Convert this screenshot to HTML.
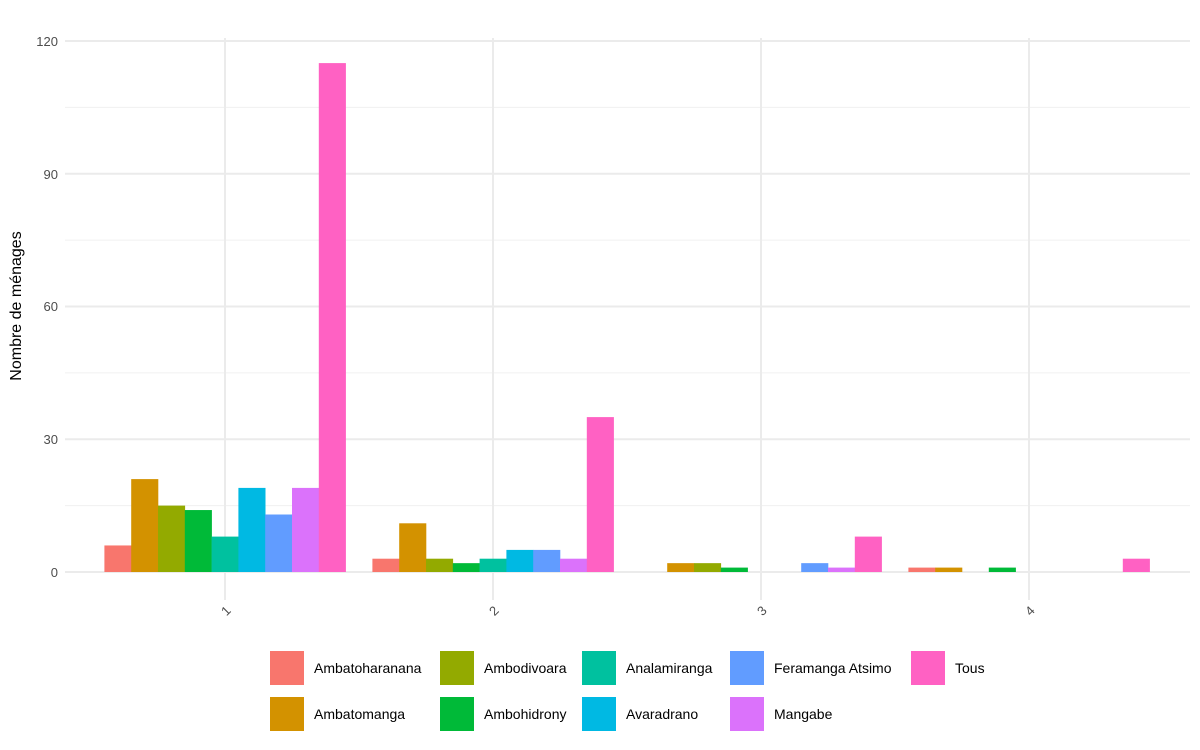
<!DOCTYPE html>
<html><head><meta charset="utf-8"><style>
body{margin:0;background:#fff;}
svg{display:block;font-family:"Liberation Sans",sans-serif;}
</style></head><body>
<svg width="1200" height="750" xmlns="http://www.w3.org/2000/svg">
<rect width="1200" height="750" fill="#fff"/>
<g stroke="#f0f0f0" stroke-width="1">
<line x1="65" x2="1190" y1="505.6" y2="505.6"/>
<line x1="65" x2="1190" y1="372.9" y2="372.9"/>
<line x1="65" x2="1190" y1="240.1" y2="240.1"/>
<line x1="65" x2="1190" y1="107.4" y2="107.4"/>
</g>
<g stroke="#ebebeb" stroke-width="2">
<line x1="65" x2="1190" y1="572" y2="572"/>
<line x1="65" x2="1190" y1="439.3" y2="439.3"/>
<line x1="65" x2="1190" y1="306.5" y2="306.5"/>
<line x1="65" x2="1190" y1="173.8" y2="173.8"/>
<line x1="65" x2="1190" y1="41" y2="41"/>
<line x1="225" x2="225" y1="38" y2="600"/>
<line x1="493" x2="493" y1="38" y2="600"/>
<line x1="761" x2="761" y1="38" y2="600"/>
<line x1="1029" x2="1029" y1="38" y2="600"/>
</g>
<g font-size="13" fill="#4d4d4d" text-anchor="end">
<text x="58" y="577">0</text>
<text x="58" y="444">30</text>
<text x="58" y="311">60</text>
<text x="58" y="179">90</text>
<text x="58" y="46">120</text>
</g>
<g font-size="13" fill="#4d4d4d" text-anchor="middle">
<text transform="translate(229,614) rotate(-45)">1</text>
<text transform="translate(497,614) rotate(-45)">2</text>
<text transform="translate(765,614) rotate(-45)">3</text>
<text transform="translate(1033,614) rotate(-45)">4</text>
</g>
<text transform="translate(21,306) rotate(-90)" font-size="16" text-anchor="middle" fill="#000">Nombre de ménages</text>
<g>
<rect x="104.4" y="545.45" width="27.1" height="26.55" fill="#F8766D"/>
<rect x="131.2" y="479.1" width="27.1" height="92.9" fill="#D39200"/>
<rect x="158" y="505.6" width="27.1" height="66.4" fill="#93AA00"/>
<rect x="184.8" y="510.05" width="27.1" height="61.95" fill="#00BA38"/>
<rect x="211.6" y="536.6" width="27.1" height="35.4" fill="#00C19F"/>
<rect x="238.4" y="487.9" width="27.1" height="84.1" fill="#00B9E3"/>
<rect x="265.2" y="514.5" width="27.1" height="57.5" fill="#619CFF"/>
<rect x="292" y="487.9" width="27.1" height="84.1" fill="#DB72FB"/>
<rect x="318.8" y="63.1" width="27.1" height="508.9" fill="#FF61C3"/>

<rect x="372.4" y="558.7" width="27.1" height="13.3" fill="#F8766D"/>
<rect x="399.2" y="523.3" width="27.1" height="48.7" fill="#D39200"/>
<rect x="426" y="558.7" width="27.1" height="13.3" fill="#93AA00"/>
<rect x="452.8" y="563.15" width="27.1" height="8.85" fill="#00BA38"/>
<rect x="479.6" y="558.7" width="27.1" height="13.3" fill="#00C19F"/>
<rect x="506.4" y="549.9" width="27.1" height="22.1" fill="#00B9E3"/>
<rect x="533.2" y="549.9" width="27.1" height="22.1" fill="#619CFF"/>
<rect x="560" y="558.7" width="27.1" height="13.3" fill="#DB72FB"/>
<rect x="586.8" y="417.1" width="27.1" height="154.9" fill="#FF61C3"/>

<rect x="667.2" y="563.15" width="27.1" height="8.85" fill="#D39200"/>
<rect x="694" y="563.15" width="27.1" height="8.85" fill="#93AA00"/>
<rect x="720.8" y="567.6" width="27.1" height="4.4" fill="#00BA38"/>
<rect x="801.2" y="563.15" width="27.1" height="8.85" fill="#619CFF"/>
<rect x="828" y="567.6" width="27.1" height="4.4" fill="#DB72FB"/>
<rect x="854.8" y="536.6" width="27.1" height="35.4" fill="#FF61C3"/>

<rect x="908.4" y="567.6" width="27.1" height="4.4" fill="#F8766D"/>
<rect x="935.2" y="567.6" width="27.1" height="4.4" fill="#D39200"/>
<rect x="988.8" y="567.6" width="27.1" height="4.4" fill="#00BA38"/>
<rect x="1122.8" y="558.7" width="27.1" height="13.3" fill="#FF61C3"/>
</g>
<g font-size="14" fill="#000">
<rect x="270" y="651" width="34" height="34" fill="#F8766D"/><text x="314" y="673">Ambatoharanana</text>
<rect x="270" y="697" width="34" height="34" fill="#D39200"/><text x="314" y="719">Ambatomanga</text>
<rect x="440" y="651" width="34" height="34" fill="#93AA00"/><text x="484" y="673">Ambodivoara</text>
<rect x="440" y="697" width="34" height="34" fill="#00BA38"/><text x="484" y="719">Ambohidrony</text>
<rect x="582" y="651" width="34" height="34" fill="#00C19F"/><text x="626" y="673">Analamiranga</text>
<rect x="582" y="697" width="34" height="34" fill="#00B9E3"/><text x="626" y="719">Avaradrano</text>
<rect x="730" y="651" width="34" height="34" fill="#619CFF"/><text x="774" y="673">Feramanga Atsimo</text>
<rect x="730" y="697" width="34" height="34" fill="#DB72FB"/><text x="774" y="719">Mangabe</text>
<rect x="911" y="651" width="34" height="34" fill="#FF61C3"/><text x="955" y="673">Tous</text>
</g>
</svg>
</body></html>
